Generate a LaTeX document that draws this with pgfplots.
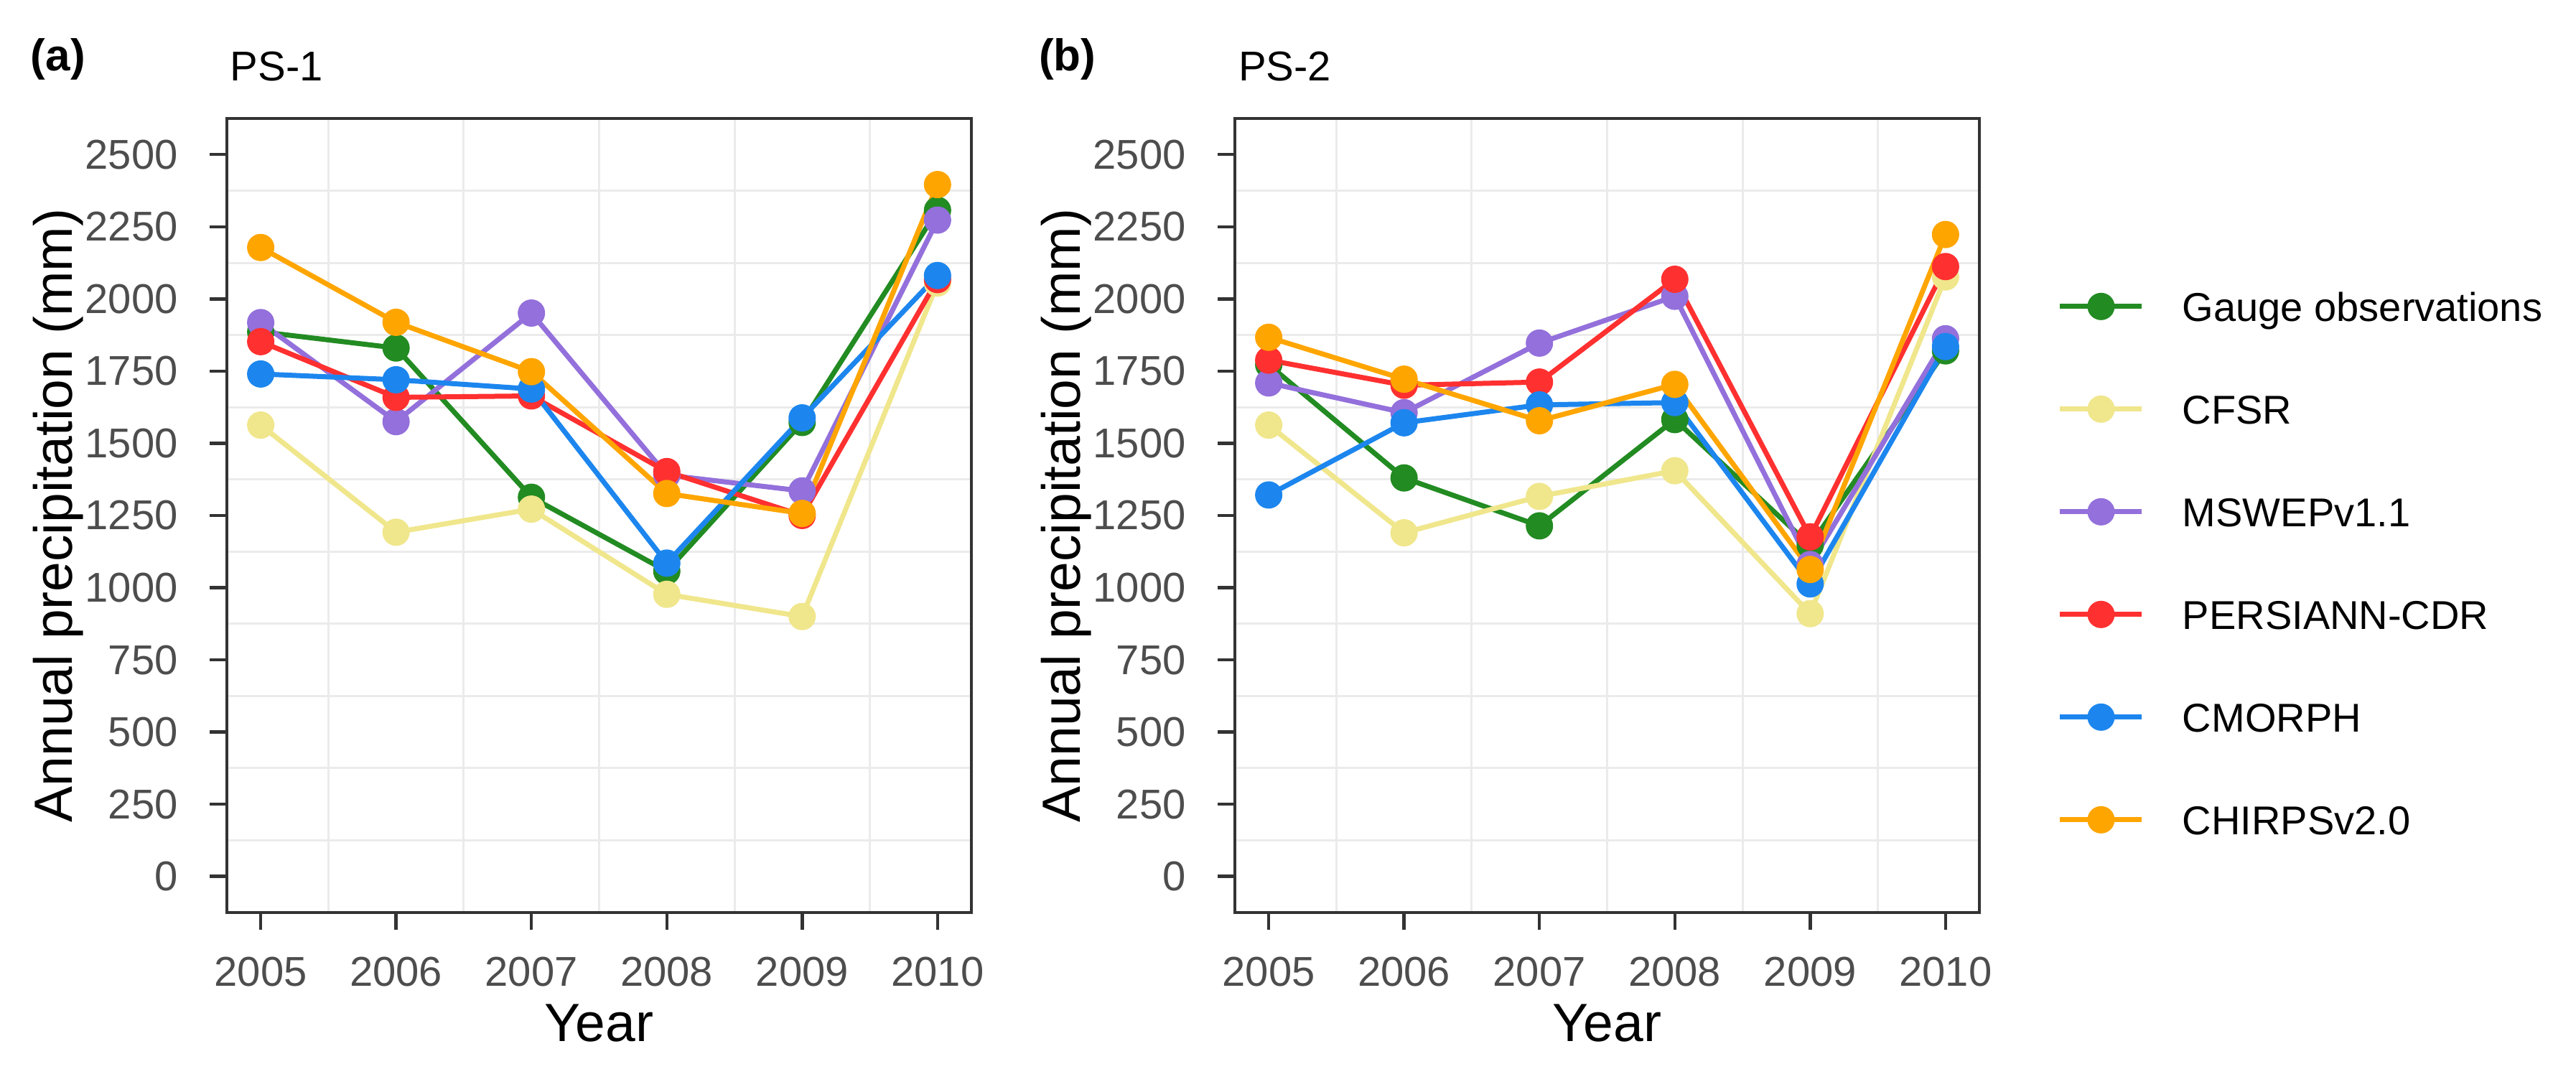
\documentclass[border=0pt]{standalone}
\usepackage{fontspec}
\setmainfont{Liberation Sans}
\usepackage{pgfplots}
\usepackage{pgfplotstable}
\pgfplotsset{compat=1.18}

\definecolor{cgauge}{HTML}{228B22}
\definecolor{ccfsr}{HTML}{F0E68C}
\definecolor{cmswep}{HTML}{9370DB}
\definecolor{cpers}{HTML}{FF3030}
\definecolor{ccmorph}{HTML}{1C86EE}
\definecolor{cchirps}{HTML}{FFA500}
\definecolor{gridc}{HTML}{EBEBEB}
\definecolor{axc}{HTML}{333333}
\definecolor{tickc}{HTML}{4D4D4D}

% PS-1
\pgfplotstableread{
year gauge cfsr mswep persiann cmorph chirps
2005 1886 1563 1918 1852 1740 2178
2006 1830 1192 1575 1659 1720 1919
2007 1313 1272 1951 1664 1688 1748
2008 1057 977  1390 1402 1085 1326
2009 1572 900  1335 1250 1588 1257
2010 2307 2055 2273 2067 2081 2396
}\psone

% PS-2
\pgfplotstableread{
year gauge cfsr mswep persiann cmorph chirps
2005 1772 1563 1709 1788 1321 1867
2006 1380 1190 1606 1701 1571 1722
2007 1214 1316 1847 1712 1633 1578
2008 1582 1405 2009 2068 1641 1704
2009 1147 910  1080 1176 1013 1063
2010 1820 2076 1862 2112 1835 2223
}\pstwo

\pgfplotsset{
  panel/.style={
    scale only axis, width=103.7pt, height=110.6pt,
    xmin=2004.75, xmax=2010.25, ymin=-125, ymax=2625,
    xtick={2005,2006,2007,2008,2009,2010},
    ytick={0,250,...,2500},
    minor xtick={2005.5,2006.5,2007.5,2008.5,2009.5},
    minor ytick={125,375,...,2375},
    xminorgrids=true, yminorgrids=true,
    minor grid style={gridc, line width=0.3pt},
    axis line style={axc, line width=0.45pt},
    tick align=outside, tick pos=left,
    major tick length=2.4pt, minor tick length=0pt,
    every tick/.style={axc, line width=0.45pt},
    /pgf/number format/1000 sep={},
    /pgf/number format/assume math mode=true,
    tick label style={font=\fontsize{5.8}{7}\selectfont, text=tickc},
    yticklabel style={xshift=-0.9pt},
    xticklabel style={yshift=-0.3pt},
    label style={font=\fontsize{7.5}{9}\selectfont},
    xlabel={Year}, ylabel={Annual precipitation (mm)},
    xlabel style={at={(axis description cs:0.5,-0.162)}, anchor=base},
    ylabel style={at={(axis description cs:-0.208,0.5)}, anchor=base},
    clip=false,
    every axis plot/.append style={line width=0.7pt, mark=*, mark size=1.55pt, mark options={solid}},
  },
}
\tikzset{
  ptitle/.style={anchor=base west, inner sep=0pt, font=\bfseries\fontsize{6.2}{7}\selectfont, xshift=-27.5pt, yshift=6.6pt},
  pname/.style={anchor=base west, inner sep=0pt, font=\fontsize{5.8}{7}\selectfont, xshift=0.3pt, yshift=5.2pt},
}

\begin{document}
\begin{tikzpicture}
\path[use as bounding box] (-31.6pt,-24.3pt) rectangle (327.2pt,127.1pt);

\begin{axis}[panel]
  \addplot[cgauge]   table[x=year, y=gauge]    {\psone};
  \addplot[ccfsr]    table[x=year, y=cfsr]     {\psone};
  \addplot[cmswep]   table[x=year, y=mswep]    {\psone};
  \addplot[cpers]    table[x=year, y=persiann] {\psone};
  \addplot[ccmorph]  table[x=year, y=cmorph]   {\psone};
  \addplot[cchirps]  table[x=year, y=chirps]   {\psone};
  \node[ptitle] at (rel axis cs:0,1) {(a)};
  \node[pname] at (rel axis cs:0,1) {PS-1};
\end{axis}

\begin{axis}[panel, at={(140.4pt,0)},
    legend style={at={(1,0.44)}, xshift=10.7pt, anchor=west, draw=none, fill=none,
      inner sep=0pt, row sep=10.2pt, column sep=5.3pt,
      font=\fontsize{5.6}{7}\selectfont,
      nodes={inner sep=0pt, text height=4.1pt, text depth=0pt}},
    legend cell align=left,
    legend image code/.code={\draw[mark repeat=2, mark phase=2, #1] plot coordinates {(0pt,0pt) (5.7pt,0pt) (11.4pt,0pt)};},
  ]
  \addplot[cgauge]   table[x=year, y=gauge]    {\pstwo};
  \addlegendentry{Gauge observations}
  \addplot[ccfsr]    table[x=year, y=cfsr]     {\pstwo};
  \addlegendentry{CFSR}
  \addplot[cmswep]   table[x=year, y=mswep]    {\pstwo};
  \addlegendentry{MSWEPv1.1}
  \addplot[cpers]    table[x=year, y=persiann] {\pstwo};
  \addlegendentry{PERSIANN-CDR}
  \addplot[ccmorph]  table[x=year, y=cmorph]   {\pstwo};
  \addlegendentry{CMORPH}
  \addplot[cchirps]  table[x=year, y=chirps]   {\pstwo};
  \addlegendentry{CHIRPSv2.0}
  \node[ptitle] at (rel axis cs:0,1) {(b)};
  \node[pname] at (rel axis cs:0,1) {PS-2};
\end{axis}
\end{tikzpicture}
\end{document}
